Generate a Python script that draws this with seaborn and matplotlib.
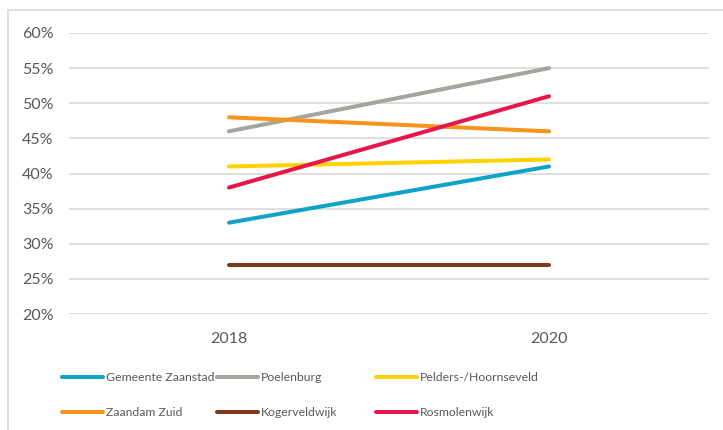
import matplotlib
matplotlib.use("Agg")
import matplotlib.pyplot as plt
import seaborn as sns
import pandas as pd
from matplotlib.patches import Rectangle
from matplotlib.ticker import FuncFormatter

# Share of residents per area, 2018 and 2020
years = ["2018", "2020"]
gemeente_zaanstad = [33, 41]
poelenburg = [46, 55]
pelders_hoornseveld = [41, 42]
zaandam_zuid = [48, 46]
kogerveldwijk = [27, 27]
rosmolenwijk = [38, 51]

areas = ["Gemeente Zaanstad", "Poelenburg", "Pelders-/Hoornseveld",
         "Zaandam Zuid", "Kogerveldwijk", "Rosmolenwijk"]
series = [gemeente_zaanstad, poelenburg, pelders_hoornseveld,
          zaandam_zuid, kogerveldwijk, rosmolenwijk]
colors = ["#0FA3C8", "#A5A5A0", "#FFD200", "#F7941D", "#7B3A1E", "#E8174A"]

rows = []
for name, vals in zip(areas, series):
    for i, (yr, v) in enumerate(zip(years, vals)):
        rows.append({"pos": i, "jaar": yr, "gebied": name, "waarde": v})
df = pd.DataFrame(rows)

sns.set_theme(style="white")
plt.rcParams["font.family"] = ["Lato", "DejaVu Sans"]
text_color = "#595959"
grid_color = "#D9D9D9"

fig = plt.figure(figsize=(7.23, 4.30), dpi=100)
ax = fig.add_axes([69 / 723, 1 - 314 / 430, (709 - 69) / 723, (314 - 33) / 430])

sns.lineplot(data=df, x="pos", y="waarde", hue="gebied", hue_order=areas,
             palette=colors, linewidth=2.9, ax=ax, legend=False,
             solid_capstyle="round", sort=False)

ax.set_xlim(-0.5, 1.5)
ax.set_ylim(20, 60)
ax.set_yticks(range(20, 61, 5))
ax.yaxis.set_major_formatter(FuncFormatter(lambda v, p: f"{int(v)}%"))
ax.set_xticks([0, 1])
ax.set_xticklabels(years)
ax.set_xlabel("")
ax.set_ylabel("")
ax.grid(axis="y", color=grid_color, linewidth=1.2)
ax.set_axisbelow(True)
for s in ax.spines.values():
    s.set_visible(False)
ax.tick_params(axis="both", length=0, colors=text_color, labelsize=11.5)
ax.tick_params(axis="y", pad=11)
ax.tick_params(axis="x", pad=13)

# Legend laid out in three fixed-width columns
handle_map = {name: ln for ln, name in zip(ax.get_lines(), areas)}
columns = [(["Gemeente Zaanstad", "Zaandam Zuid"], 62),
           (["Poelenburg", "Kogerveldwijk"], 217),
           (["Pelders-/Hoornseveld", "Rosmolenwijk"], 376)]
leg_size = 8.8
for names, x0 in columns:
    hs = [plt.Line2D([], [], color=handle_map[n].get_color(), linewidth=2.9) for n in names]
    leg = fig.legend(hs, names, loc="upper left",
                     bbox_to_anchor=(x0 / 723, 1 - 372 / 430),
                     frameon=False, fontsize=leg_size, handlelength=3.35,
                     handletextpad=0.22, labelspacing=1.95, borderpad=0,
                     borderaxespad=0)
    for t in leg.get_texts():
        t.set_color(text_color)

# Chart border
fig.add_artist(Rectangle((8 / 723, -0.1), 1.2, 1.1 - 10 / 430,
                         transform=fig.transFigure, fill=False,
                         edgecolor=grid_color, linewidth=1.2))

fig.savefig("out.png", dpi=100)
